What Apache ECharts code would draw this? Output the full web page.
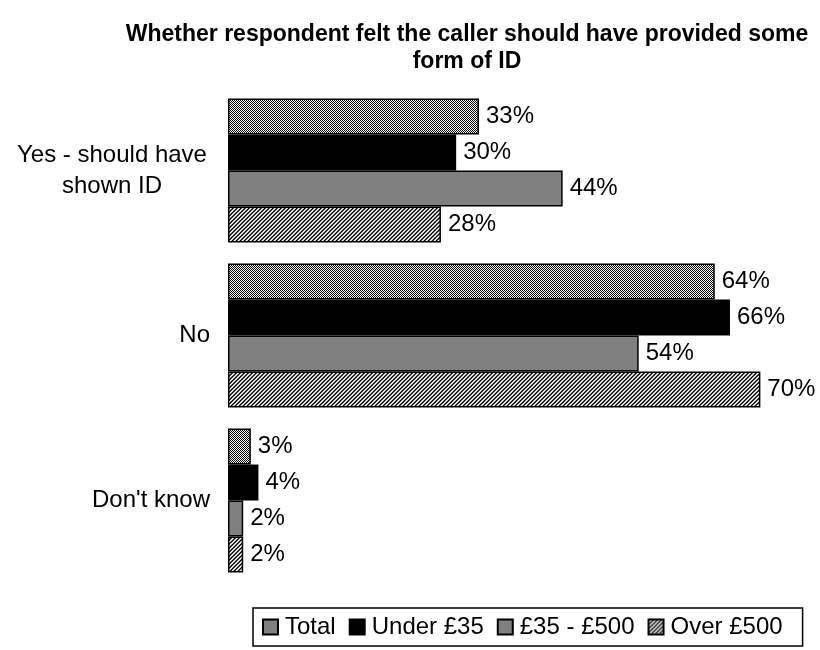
<!DOCTYPE html>
<html>
<head>
<meta charset="utf-8">
<script src="https://cdn.jsdelivr.net/npm/echarts@6/dist/echarts.min.js"></script>
<style>html,body{margin:0;padding:0;background:#fff}#c{width:820px;height:650px}</style>
</head>
<body>
<div id="c"></div>
<script>
var categories = ["Yes - should have shown ID", "No", "Don't know"];
var seriesNames = ["Total", "Under £35", "£35 - £500", "Over £500"];
var totalVals = [33, 64, 3];
var under35Vals = [30, 66, 4];
var mid35to500Vals = [44, 54, 2];
var over500Vals = [28, 70, 2];

function makePattern(size, fn) {
  var c = document.createElement('canvas');
  c.width = size; c.height = size;
  var ctx = c.getContext('2d');
  for (var y = 0; y < size; y++) {
    for (var x = 0; x < size; x++) {
      ctx.fillStyle = fn(x, y);
      ctx.fillRect(x, y, 1, 1);
    }
  }
  return { image: c, repeat: 'repeat' };
}
var checker = makePattern(2, function (x, y) { return (x + y) % 2 === 0 ? '#000' : '#fff'; });
var diag = makePattern(4, function (x, y) {
  var k = (x + y) % 4;
  return ['#000', '#555', '#fff', '#bbb'][k];
});
var fills = [checker, '#000', '#808080', diag];
var dataSets = [totalVals, under35Vals, mid35to500Vals, over500Vals];

var chart = echarts.init(document.getElementById('c'), null, { renderer: 'canvas' });
var FONT = '"Liberation Sans", Arial, sans-serif';

var series = seriesNames.map(function (name, i) {
  return {
    name: name,
    type: 'bar',
    data: dataSets[i],
    barWidth: 36,
    barGap: '0%',
    itemStyle: { color: fills[i], borderColor: '#000', borderWidth: 1.5 },
    label: {
      show: true, position: 'right', distance: 7,
      formatter: '{c}%', color: '#000', fontSize: 24, fontFamily: FONT
    },
    emphasis: { disabled: true },
    animation: false
  };
});

chart.setOption({
  animation: false,
  backgroundColor: '#fff',
  title: {
    text: 'Whether respondent felt the caller should have provided some\nform of ID',
    left: 462, top: 16, textAlign: 'center',
    textStyle: { fontSize: 23, fontWeight: 'bold', color: '#000', fontFamily: FONT, lineHeight: 27 }
  },
  grid: { left: 228, top: 88, height: 495, right: 14 },
  xAxis: {
    type: 'value', min: 0, max: 76, show: false
  },
  yAxis: {
    type: 'category', data: categories, inverse: true,
    axisLine: { show: false }, axisTick: { show: false },
    axisLabel: {
      margin: 18, color: '#000', fontSize: 24, fontFamily: FONT,
      formatter: function (v) {
        if (v === categories[0]) return '{c|Yes - should have}\n{c|shown ID}';
        return v;
      },
      rich: { c: { width: 196, align: 'center', fontSize: 24, fontFamily: FONT, color: '#000', lineHeight: 31 } }
    }
  },
  legend: {
    data: seriesNames.map(function (n) { return { name: n, icon: 'rect' }; }),
    left: 253, top: 608,
    itemWidth: 15, itemHeight: 15, itemGap: 13,
    borderColor: '#000', borderWidth: 1.5, padding: [7, 20, 7, 9],
    textStyle: { fontSize: 24, color: '#000', fontFamily: FONT, padding: [0, 0, 0, 2] },
    selectedMode: false
  },
  series: series
});
</script>
</body>
</html>
